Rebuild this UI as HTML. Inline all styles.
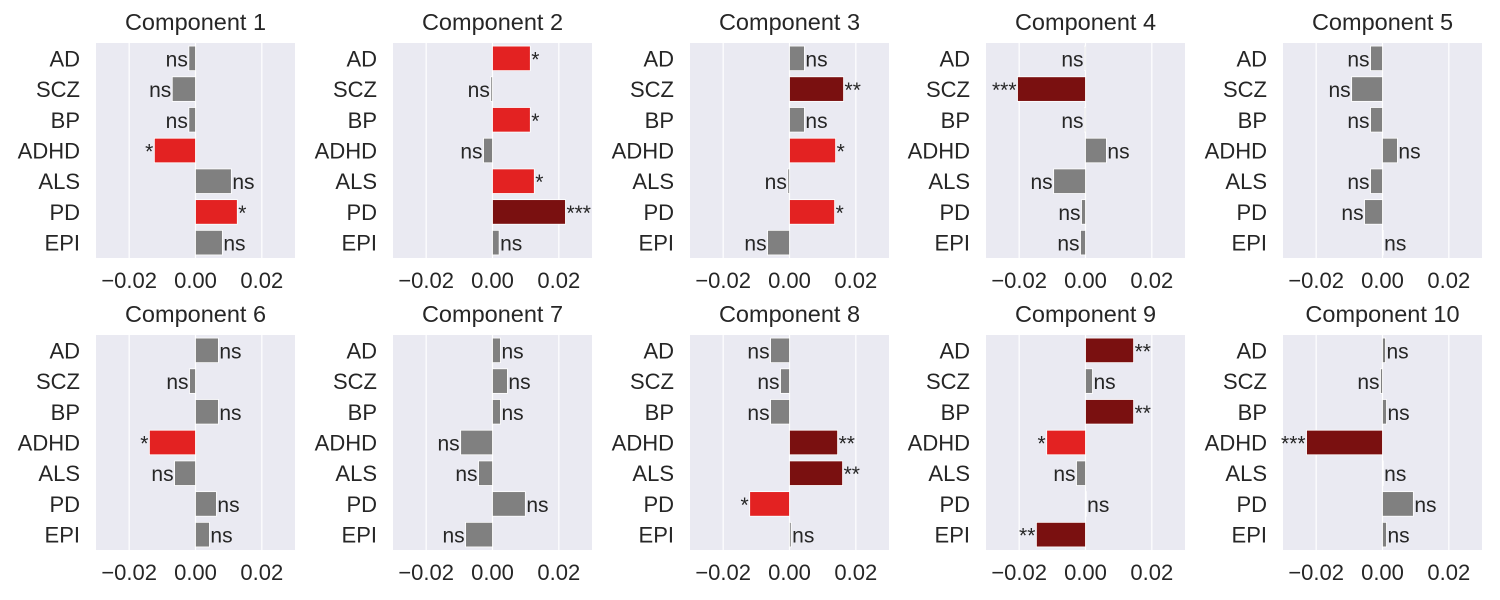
<!DOCTYPE html>
<html><head><meta charset="utf-8"><style>
body{margin:0;background:#fff;}
svg{display:block;font-family:"Liberation Sans","DejaVu Sans",sans-serif;}
</style></head><body>
<svg id="chart" width="1500" height="600" viewBox="0 0 1500 600"></svg>
<script>
const categories = ["AD","SCZ","BP","ADHD","ALS","PD","EPI"];
const components = ["Component 1","Component 2","Component 3","Component 4","Component 5","Component 6","Component 7","Component 8","Component 9","Component 10"];
const values1 = [-0.002,-0.007,-0.002,-0.0124,0.0108,0.0126,0.0081];
const values2 = [0.0114,-0.0005,0.0114,-0.0027,0.0126,0.022,0.002];
const values3 = [0.0045,0.0163,0.0045,0.0139,-0.0005,0.0136,-0.0066];
const values4 = [-0.0003,-0.0205,-0.0003,0.0063,-0.0096,-0.0012,-0.0015];
const values5 = [-0.0036,-0.0093,-0.0036,0.0045,-0.0036,-0.0054,0.0002];
const values6 = [0.0069,-0.0018,0.0069,-0.0139,-0.0063,0.0063,0.0042];
const values7 = [0.0024,0.0045,0.0024,-0.0096,-0.0042,0.0099,-0.0081];
const values8 = [-0.0057,-0.0027,-0.0057,0.0145,0.016,-0.012,0.0005];
const values9 = [0.0145,0.0021,0.0145,-0.0117,-0.0027,0.0002,-0.0148];
const values10 = [0.0009,-0.0006,0.0012,-0.0229,0.0002,0.0093,0.0012];
const sig1 = ["ns","ns","ns","*","ns","*","ns"];
const sig2 = ["*","ns","*","ns","*","***","ns"];
const sig3 = ["ns","**","ns","*","ns","*","ns"];
const sig4 = ["ns","***","ns","ns","ns","ns","ns"];
const sig5 = ["ns","ns","ns","ns","ns","ns","ns"];
const sig6 = ["ns","ns","ns","*","ns","ns","ns"];
const sig7 = ["ns","ns","ns","ns","ns","ns","ns"];
const sig8 = ["ns","ns","ns","**","**","*","ns"];
const sig9 = ["**","ns","**","*","ns","ns","**"];
const sig10 = ["ns","ns","ns","***","ns","ns","ns"];
const xTicks = [-0.02,0,0.02];
const xTickLabels = ["\u22120.02","0.00","0.02"];

const allValues=[values1,values2,values3,values4,values5,values6,values7,values8,values9,values10];
const allSig=[sig1,sig2,sig3,sig4,sig5,sig6,sig7,sig8,sig9,sig10];
const svg=document.getElementById('chart');
const NS='http://www.w3.org/2000/svg';
function mk(tag,attrs,parent){const e=document.createElementNS(NS,tag);for(const k in attrs)e.setAttribute(k,attrs[k]);parent.appendChild(e);return e;}
const W=199,H=215,lefts=[96,393,690,986,1283],tops=[43,335];
const xmin=-0.03,xmax=0.03;
components.forEach((name,ci)=>{
  const L=lefts[ci%5],T=tops[Math.floor(ci/5)];
  const g=mk('g',{},svg);
  
  
  const xs=v=>L+(v-xmin)/(xmax-xmin)*W;
  const step=H/categories.length;
  const ys=i=>T+step*(i+0.5);
  const bg=mk('rect',{x:L,y:T,width:W,height:H,fill:'#eaeaf2'},g);
  
  
  xTicks.forEach((t,ti)=>{
    const gl=mk('line',{x1:xs(t),x2:xs(t),y1:T,y2:T+H,stroke:'#fff','stroke-width':1.2},g);
    
    
    const tl=mk('text',{x:xs(t),y:T+H+30,'font-size':22,fill:'#262626','text-anchor':'middle'},g);
    tl.textContent=xTickLabels[ti];
    
    
  });
  const title=mk('text',{x:L+W/2,y:T-13,'font-size':23.5,fill:'#262626','text-anchor':'middle'},g);
  title.textContent=name;
  
  
  categories.forEach((c,i)=>{
    const yl=mk('text',{x:L-16,y:ys(i)+8,'font-size':22,fill:'#262626','text-anchor':'end'},g);
    yl.textContent=c;
    
    
    const v=allValues[ci][i],s=allSig[ci][i];
    const col=s==='ns'?'#808080':(s==='*'?'#e32222':'#7a1010');
    const x0=xs(0),x1=xs(v);
    const bh=step*0.8;
    const b=mk('rect',{x:Math.min(x0,x1),y:ys(i)-bh/2,width:Math.max(Math.abs(x1-x0),0.8),height:bh,fill:col,stroke:'#fff','stroke-width':0.8},g);
    
    
    const pos=v>=0;
    const st=mk('text',{x:pos?x1+1:x1-1,y:ys(i)+8,'font-size':21,fill:'#262626','text-anchor':pos?'start':'end'},g);
    st.textContent=s;
    
    
  });
});
</script>
</body></html>
